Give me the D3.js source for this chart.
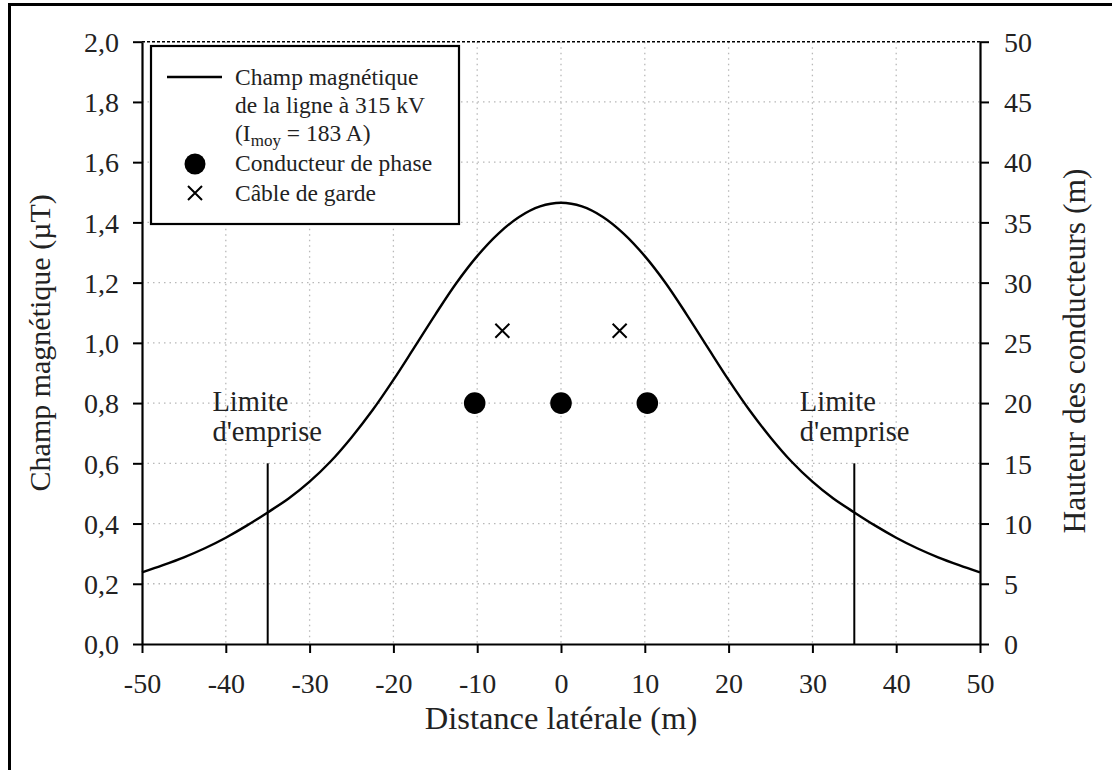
<!DOCTYPE html>
<html>
<head>
<meta charset="utf-8">
<script src="https://cdn.jsdelivr.net/npm/d3@7"></script>
<style>
  body { margin: 0; background: #fff; }
  svg { display: block; font-family: "Liberation Serif", "Times New Roman", serif; }
</style>
</head>
<body>
<svg width="1112" height="770"></svg>
<script>
// champ magnetique vs distance laterale
var distance = [-50,-47.5,-45,-42.5,-40,-37.5,-35,-32.5,-30,-27.5,-25,-22.5,-20,-17.5,-15,-12.5,-10,-7.5,-5,-2.5,
                0,2.5,5,7.5,10,12.5,15,17.5,20,22.5,25,27.5,30,32.5,35,37.5,40,42.5,45,47.5,50];
var field = [0.238,0.262,0.288,0.318,0.353,0.393,0.437,0.483,0.539,0.606,0.686,0.776,0.877,0.985,1.094,1.198,1.288,1.362,1.418,1.453,
             1.465,1.453,1.418,1.362,1.288,1.198,1.094,0.985,0.877,0.776,0.686,0.606,0.539,0.483,0.437,0.393,0.353,0.318,0.288,0.262,0.238];

// conducteurs (hauteur en m)
var phaseX = [-10.3, 0, 10.3];
var phaseH = [20, 20, 20];
var guardX = [-7, 7];
var guardH = [26, 26];

// limites d'emprise
var limitX = [-35, 35];
var limitTop = 0.6;

var xTicks = [-50,-40,-30,-20,-10,0,10,20,30,40,50];
var yTicks = [0,0.2,0.4,0.6,0.8,1.0,1.2,1.4,1.6,1.8,2.0];
var hTicks = [0,5,10,15,20,25,30,35,40,45,50];

var svg = d3.select("svg");
var pLeft = 142, pRight = 980, pTop = 41.7, pBottom = 644;

var x = d3.scaleLinear().domain([-50, 50]).range([pLeft, pRight]);
var y = d3.scaleLinear().domain([0, 2]).range([pBottom, pTop]);
var h = d3.scaleLinear().domain([0, 50]).range([pBottom, pTop]);
var fmt = function(d) { return d3.format(".1f")(d).replace(".", ",").replace("−", "-"); };
var fmtInt = function(d) { return String(d); };

// cadre exterieur
svg.append("rect")
  .attr("x", 9.5).attr("y", 4.5)
  .attr("width", 1300).attr("height", 1000)
  .attr("fill", "none").attr("stroke", "#000").attr("stroke-width", 3);

// grille
svg.append("g").selectAll("line").data(xTicks.slice(1, -1)).enter()
  .append("line")
  .attr("x1", function(d) { return x(d) }).attr("x2", function(d) { return x(d) })
  .attr("y1", pTop).attr("y2", pBottom)
  .attr("stroke", "#b8b8b8").attr("stroke-width", 1.3).attr("stroke-dasharray", "1.5,4");
svg.append("g").selectAll("line").data(yTicks.slice(1, -1)).enter()
  .append("line")
  .attr("y1", function(d) { return y(d) }).attr("y2", function(d) { return y(d) })
  .attr("x1", pLeft).attr("x2", pRight)
  .attr("stroke", "#b8b8b8").attr("stroke-width", 1.3).attr("stroke-dasharray", "1.5,4");

// ligne pointillee en haut
svg.append("line")
  .attr("x1", pLeft).attr("x2", pRight).attr("y1", y(2)).attr("y2", y(2))
  .attr("stroke", "#000").attr("stroke-width", 1.5).attr("stroke-dasharray", "3,2");

// axes
var xAxis = svg.append("g").attr("transform", "translate(0," + pBottom + ")")
  .call(d3.axisBottom(x).tickValues(xTicks).tickFormat(fmtInt).tickSize(9).tickSizeOuter(0).tickPadding(20));
var yAxis = svg.append("g").attr("transform", "translate(" + pLeft + ",0)")
  .call(d3.axisLeft(y).tickValues(yTicks).tickFormat(fmt).tickSize(9).tickSizeOuter(0).tickPadding(14));
var hAxis = svg.append("g").attr("transform", "translate(" + pRight + ",0)")
  .call(d3.axisRight(h).tickValues(hTicks).tickFormat(fmtInt).tickSize(9).tickSizeOuter(0).tickPadding(15));

[xAxis, yAxis, hAxis].forEach(function(a) {
  a.select(".domain").attr("stroke-width", 2.2);
  a.selectAll(".tick line").attr("stroke-width", 2);
  a.selectAll(".tick text").attr("font-size", 28).attr("fill", "#222")
    .attr("font-family", "Liberation Serif");
});
yAxis.selectAll(".tick text").attr("dy", "0.35em");
hAxis.selectAll(".tick text").attr("dy", "0.35em");

// limites d'emprise
svg.append("g").selectAll("line").data(limitX).enter()
  .append("line")
  .attr("x1", function(d) { return x(d) }).attr("x2", function(d) { return x(d) })
  .attr("y1", y(0)).attr("y2", y(limitTop))
  .attr("stroke", "#000").attr("stroke-width", 2);

var labX = [-41.6, 28.5];
labX.forEach(function(lx) {
  var t = svg.append("text").attr("x", x(lx)).attr("y", y(0.774))
    .attr("font-size", 28.5).attr("fill", "#222");
  t.append("tspan").attr("x", x(lx)).text("Limite");
  t.append("tspan").attr("x", x(lx)).attr("dy", 30.5).text("d'emprise");
});

// courbe
var line = d3.line()
  .x(function(d, i) { return x(distance[i]) })
  .y(function(d) { return y(d) })
  .curve(d3.curveCatmullRom.alpha(0.5));
svg.append("path").datum(field)
  .attr("d", line)
  .attr("fill", "none").attr("stroke", "#000").attr("stroke-width", 2.4);

// conducteurs de phase
svg.append("g").selectAll("circle").data(phaseX).enter()
  .append("circle")
  .attr("cx", function(d) { return x(d) })
  .attr("cy", function(d, i) { return h(phaseH[i]) })
  .attr("r", 10.8).attr("fill", "#000");

// cables de garde
svg.append("g").selectAll("path").data(guardX).enter()
  .append("path")
  .attr("transform", function(d, i) { return "translate(" + x(d) + "," + h(guardH[i]) + ")" })
  .attr("d", "M-7,-7L7,7M-7,7L7,-7")
  .attr("stroke", "#000").attr("stroke-width", 2);

// legende
var lg = svg.append("g");
lg.append("rect").attr("x", 151).attr("y", 46).attr("width", 308).attr("height", 178)
  .attr("fill", "#fff").attr("stroke", "#000").attr("stroke-width", 2.2);
lg.append("line").attr("x1", 167).attr("x2", 222).attr("y1", 77).attr("y2", 77)
  .attr("stroke", "#000").attr("stroke-width", 2.4);
var lt = function(yy) {
  return lg.append("text").attr("x", 235).attr("y", yy).attr("font-size", 23.5).attr("fill", "#222");
};
lt(85).text("Champ magnétique");
lt(113).text("de la ligne à 315 kV");
var t3 = lt(141);
t3.append("tspan").text("(I");
t3.append("tspan").attr("font-size", 17).attr("dy", 5).text("moy");
t3.append("tspan").attr("dy", -5).text(" = 183 A)");
lt(171).text("Conducteur de phase");
lt(201).text("Câble de garde");
lg.append("circle").attr("cx", 195).attr("cy", 164).attr("r", 10.5).attr("fill", "#000");
lg.append("path").attr("transform", "translate(195,193)")
  .attr("d", "M-7,-7L7,7M-7,7L7,-7").attr("stroke", "#000").attr("stroke-width", 2);

// titres des axes
svg.append("text").attr("x", (pLeft + pRight) / 2).attr("y", 729)
  .attr("text-anchor", "middle").attr("font-size", 32.5).attr("fill", "#222")
  .text("Distance latérale (m)");
svg.append("text").attr("transform", "translate(50," + ((pTop + pBottom) / 2) + ") rotate(-90)")
  .attr("text-anchor", "middle").attr("font-size", 30).attr("fill", "#222")
  .text("Champ magnétique (µT)");
svg.append("text").attr("transform", "translate(1085,351) rotate(-90)")
  .attr("text-anchor", "middle").attr("font-size", 31.5).attr("fill", "#222")
  .text("Hauteur des conducteurs (m)");
</script>
</body>
</html>
